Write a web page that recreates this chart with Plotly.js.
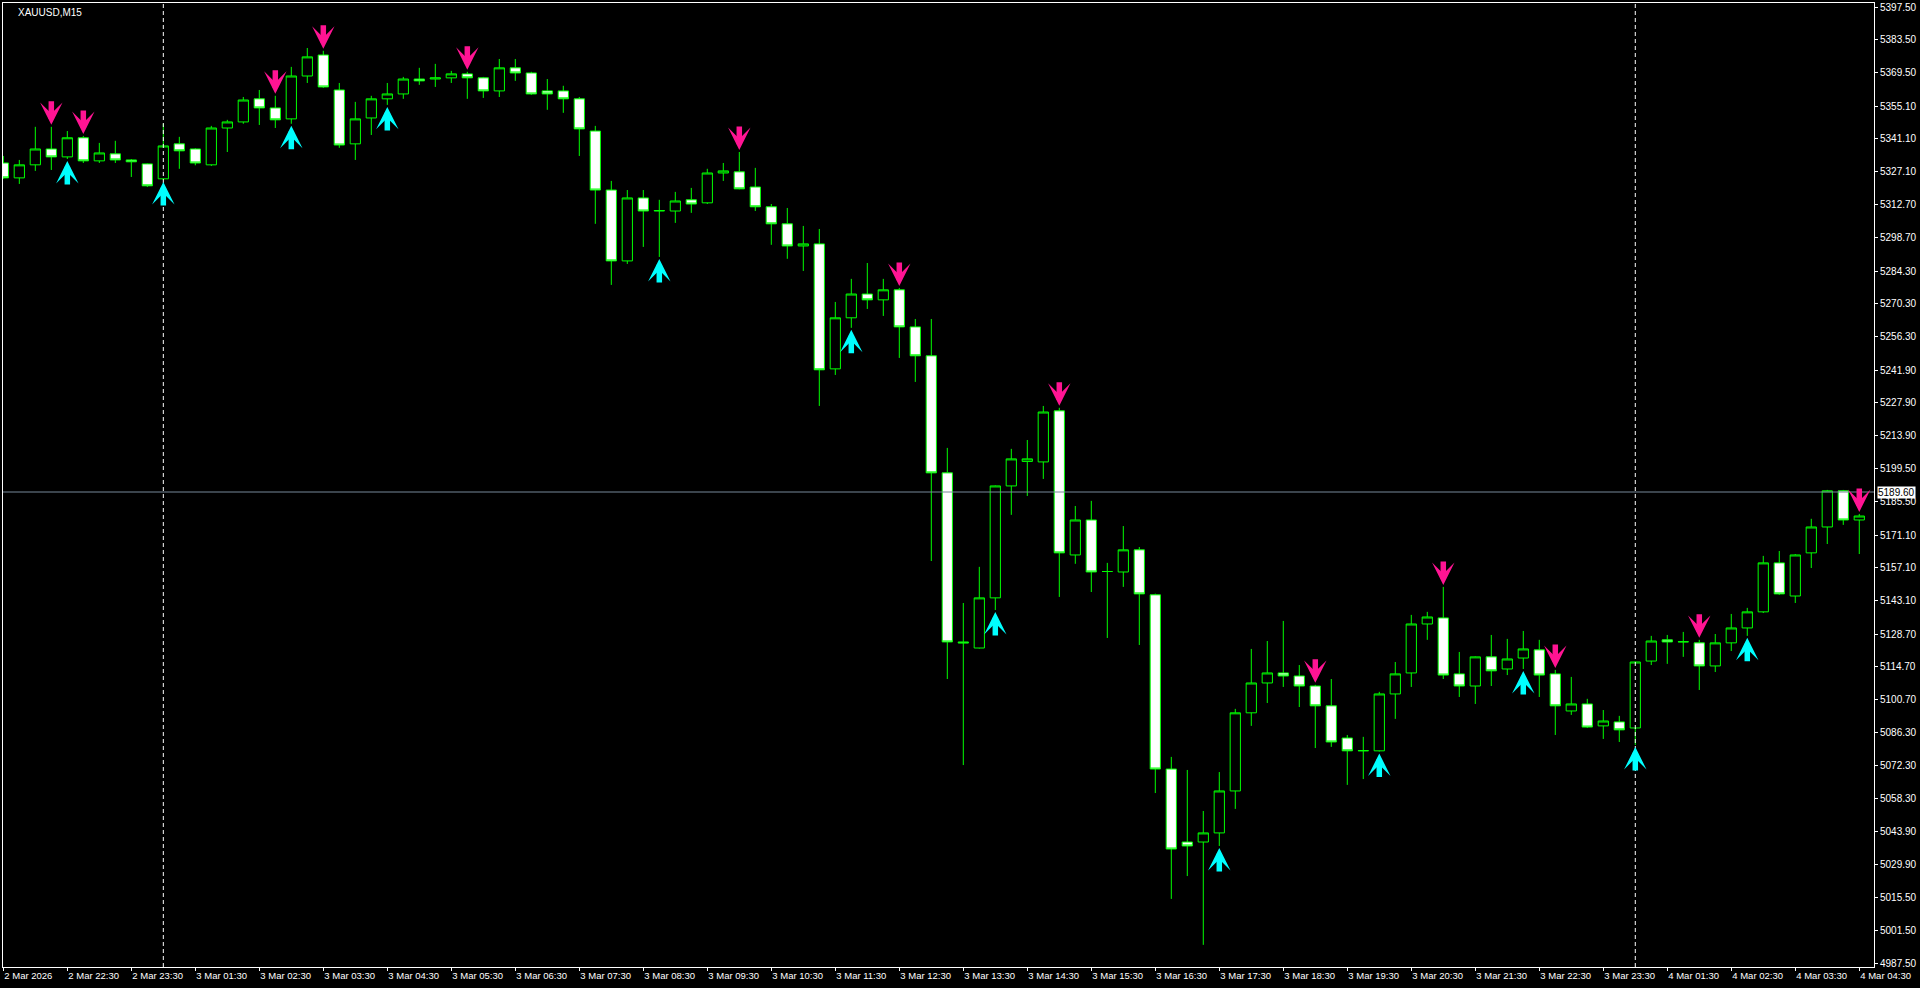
<!DOCTYPE html>
<html>
<head>
<meta charset="utf-8">
<script src="https://cdn.plot.ly/plotly-3.0.1.min.js"></script>
<style>
html,body{margin:0;padding:0;background:#000;overflow:hidden;}
#chart{width:1920px;height:988px;}
</style>
</head>
<body>
<div id="chart"></div>
<script>
// ---- Data (XAUUSD, M15) ----
const symbolTitle = 'XAUUSD,M15';

const open = [
5330.7, 5324.3, 5329.9, 5336.7, 5333.3, 5341.5, 5331.6, 5334.6, 5332.0, 5330.3,
5323.9, 5338.9, 5336.7, 5329.9, 5345.7, 5348.3, 5358.2, 5354.3, 5349.6, 5368.0,
5377.0, 5362.0, 5338.9, 5350.0, 5358.2, 5360.3, 5366.7, 5366.7, 5367.2, 5368.9,
5367.2, 5361.6, 5371.5, 5369.3, 5361.6, 5361.6, 5358.2, 5344.4, 5319.1, 5288.7,
5315.7, 5310.1, 5310.1, 5314.9, 5313.6, 5326.4, 5326.9, 5320.4, 5311.9, 5304.6,
5295.1, 5296.0, 5242.4, 5264.3, 5274.5, 5272.0, 5276.3, 5260.4, 5248.0, 5197.8,
5125.3, 5122.7, 5144.2, 5192.2, 5202.7, 5202.5, 5224.4, 5162.6, 5177.6, 5155.5,
5155.3, 5164.8, 5145.5, 5070.8, 5039.5, 5039.5, 5043.4, 5061.4, 5094.9, 5107.7,
5112.0, 5110.7, 5106.4, 5097.9, 5084.1, 5078.6, 5078.6, 5103.0, 5112.0, 5133.0,
5135.6, 5111.6, 5106.4, 5118.9, 5113.7, 5118.4, 5121.9, 5111.6, 5095.7, 5098.7,
5089.3, 5091.0, 5088.4, 5117.1, 5126.2, 5125.3, 5124.9, 5115.0, 5124.9, 5131.3,
5138.2, 5159.2, 5145.0, 5163.5, 5174.6, 5190.1, 5177.6
];
const high = [
5333.7, 5332.0, 5346.2, 5346.2, 5344.4, 5342.3, 5339.3, 5340.2, 5332.4, 5330.5,
5347.5, 5341.9, 5337.0, 5346.6, 5349.2, 5359.0, 5362.0, 5359.5, 5371.9, 5380.0,
5378.8, 5365.0, 5356.9, 5359.5, 5365.0, 5367.6, 5371.5, 5373.2, 5370.2, 5369.8,
5367.6, 5375.3, 5375.3, 5369.8, 5366.7, 5363.8, 5359.0, 5346.6, 5323.0, 5319.1,
5319.1, 5314.9, 5318.3, 5320.0, 5328.2, 5330.7, 5335.4, 5328.6, 5313.1, 5311.4,
5303.7, 5302.4, 5271.1, 5281.0, 5287.8, 5281.0, 5277.1, 5263.8, 5263.8, 5208.5,
5142.0, 5157.5, 5192.4, 5208.1, 5211.9, 5226.5, 5225.7, 5183.6, 5185.8, 5159.2,
5175.0, 5166.0, 5146.0, 5076.0, 5070.4, 5052.8, 5069.5, 5096.6, 5122.3, 5125.7,
5134.3, 5115.4, 5106.9, 5109.4, 5085.4, 5084.6, 5103.9, 5116.7, 5136.9, 5138.2,
5148.9, 5121.0, 5119.1, 5128.3, 5126.6, 5130.0, 5126.2, 5113.3, 5110.3, 5100.9,
5096.1, 5093.6, 5116.9, 5127.9, 5128.3, 5129.6, 5126.2, 5128.7, 5137.3, 5139.9,
5162.2, 5164.3, 5163.0, 5178.1, 5190.5, 5190.5, 5180.2
];
const low = [
5323.9, 5321.7, 5327.3, 5327.7, 5332.4, 5330.7, 5330.7, 5330.7, 5324.7, 5320.4,
5323.4, 5328.2, 5329.7, 5329.4, 5335.4, 5347.5, 5347.0, 5345.7, 5347.5, 5365.0,
5362.9, 5337.2, 5332.0, 5342.7, 5355.6, 5358.2, 5364.2, 5363.3, 5365.0, 5358.2,
5358.6, 5359.0, 5365.9, 5359.9, 5353.5, 5352.2, 5333.7, 5304.6, 5278.4, 5287.4,
5294.7, 5290.4, 5305.0, 5309.3, 5313.1, 5323.0, 5319.4, 5310.1, 5295.6, 5289.6,
5284.4, 5226.5, 5239.8, 5260.0, 5268.1, 5265.1, 5247.1, 5236.8, 5160.0, 5109.4,
5072.5, 5122.5, 5139.0, 5179.8, 5187.9, 5195.2, 5144.6, 5158.8, 5146.7, 5127.0,
5148.9, 5124.0, 5060.5, 5015.1, 5024.9, 4995.4, 5037.8, 5053.7, 5089.3, 5099.1,
5106.0, 5097.4, 5079.8, 5080.3, 5064.0, 5066.5, 5078.3, 5092.3, 5106.0, 5126.2,
5109.4, 5101.7, 5098.7, 5106.4, 5111.1, 5113.7, 5101.7, 5085.4, 5094.0, 5088.4,
5083.7, 5082.4, 5081.1, 5115.4, 5115.9, 5118.9, 5104.7, 5112.4, 5121.4, 5127.9,
5137.7, 5145.5, 5142.0, 5157.0, 5167.3, 5175.5, 5163.0
];
const close = [
5324.3, 5329.9, 5336.7, 5333.3, 5341.5, 5331.6, 5335.0, 5332.0, 5331.2, 5320.9,
5338.0, 5335.9, 5330.7, 5345.7, 5348.3, 5357.7, 5354.3, 5349.2, 5368.0, 5376.2,
5363.3, 5338.4, 5349.6, 5358.2, 5360.3, 5366.7, 5365.9, 5367.2, 5368.9, 5367.2,
5361.6, 5371.5, 5369.3, 5360.3, 5360.3, 5358.2, 5345.3, 5319.1, 5288.7, 5315.7,
5310.1, 5310.3, 5314.4, 5313.1, 5326.4, 5327.3, 5319.6, 5311.9, 5304.6, 5295.1,
5296.0, 5242.0, 5264.3, 5274.5, 5272.0, 5276.3, 5260.4, 5248.0, 5197.8, 5125.3,
5124.9, 5144.2, 5192.2, 5203.8, 5203.8, 5223.9, 5163.5, 5177.6, 5155.3, 5155.5,
5164.8, 5145.9, 5070.8, 5036.5, 5037.8, 5043.4, 5061.4, 5094.9, 5107.7, 5112.0,
5110.7, 5106.4, 5097.9, 5082.4, 5078.6, 5078.7, 5103.0, 5111.6, 5133.0, 5136.0,
5111.1, 5106.4, 5118.9, 5112.9, 5118.0, 5122.3, 5111.1, 5097.9, 5098.7, 5088.8,
5091.4, 5087.6, 5116.7, 5125.7, 5125.3, 5125.4, 5115.0, 5124.9, 5131.3, 5138.2,
5159.2, 5145.9, 5162.6, 5174.6, 5190.1, 5177.6, 5179.3
];

// signal arrows (bar indices)
const sellSignals = [3, 5, 17, 20, 29, 46, 56, 66, 82, 90, 97, 106, 116];
const buySignals  = [4, 10, 18, 24, 41, 53, 62, 76, 86, 95, 102, 109];

// day separators (first bar of a new day)
const daySeparators = [10, 102];

// horizontal line level
const hLineLevel = 5189.60;

// time axis labels (every 4 bars)
const timeLabels = [
'2 Mar 2026','2 Mar 22:30','2 Mar 23:30','3 Mar 01:30','3 Mar 02:30','3 Mar 03:30',
'3 Mar 04:30','3 Mar 05:30','3 Mar 06:30','3 Mar 07:30','3 Mar 08:30','3 Mar 09:30',
'3 Mar 10:30','3 Mar 11:30','3 Mar 12:30','3 Mar 13:30','3 Mar 14:30','3 Mar 15:30',
'3 Mar 16:30','3 Mar 17:30','3 Mar 18:30','3 Mar 19:30','3 Mar 20:30','3 Mar 21:30',
'3 Mar 22:30','3 Mar 23:30','4 Mar 01:30','4 Mar 02:30','4 Mar 03:30','4 Mar 04:30'
];
const timeLabelBars = timeLabels.map((_, i) => i * 4);

// price axis labels
const priceTicks = [
5397.50, 5383.50, 5369.50, 5355.10, 5341.10, 5327.10, 5312.70, 5298.70, 5284.30, 5270.30,
5256.30, 5241.90, 5227.90, 5213.90, 5199.50, 5185.50, 5171.10, 5157.10, 5143.10, 5128.70,
5114.70, 5100.70, 5086.30, 5072.30, 5058.30, 5043.90, 5029.90, 5015.50, 5001.50, 4987.50
];

// ---- Build chart ----
const bars = open.map((_, i) => i);
const FONT = '"Liberation Sans", Arial, sans-serif';

const candle = {
  type: 'candlestick',
  x: bars, open: open, high: high, low: low, close: close,
  increasing: { line: { color: '#00FF00', width: 1 }, fillcolor: '#000000' },
  decreasing: { line: { color: '#00FF00', width: 1 }, fillcolor: '#FFFFFF' },
  whiskerwidth: 0,
  hoverinfo: 'skip',
  showlegend: false
};

const ARROW_W = 5.5, ARROW_S = 0.68, ARROW_LEN = 27, ARROW_GAP = 2;
const annotations = [];
sellSignals.forEach(i => annotations.push({
  x: i, y: high[i], xref: 'x', yref: 'y', text: '', showarrow: true,
  arrowhead: 3, arrowsize: ARROW_S, arrowwidth: ARROW_W, arrowcolor: '#FF1493',
  ax: 0, ay: -ARROW_LEN, standoff: ARROW_GAP
}));
buySignals.forEach(i => annotations.push({
  x: i, y: low[i], xref: 'x', yref: 'y', text: '', showarrow: true,
  arrowhead: 3, arrowsize: ARROW_S, arrowwidth: ARROW_W, arrowcolor: '#00FFFF',
  ax: 0, ay: ARROW_LEN, standoff: ARROW_GAP
}));
annotations.push({
  xref: 'paper', yref: 'paper', x: 0, y: 1, xanchor: 'left', yanchor: 'top',
  xshift: 13, yshift: -2, text: symbolTitle, showarrow: false,
  font: { family: FONT, size: 10, color: '#FFFFFF' }
});
annotations.push({
  xref: 'paper', yref: 'y', x: 1, y: hLineLevel, xanchor: 'left', yanchor: 'middle',
  xshift: 3, text: hLineLevel.toFixed(2), showarrow: false,
  bgcolor: '#FFFFFF', borderpad: 0,
  font: { family: FONT, size: 10, color: '#000000' }
});

const shapes = daySeparators.map(i => ({
  type: 'line', xref: 'x', yref: 'paper', x0: i, x1: i, y0: 0, y1: 1,
  line: { color: '#FFFFFF', width: 1, dash: '4px,3px' }
}));
shapes.push({
  type: 'line', xref: 'paper', yref: 'y', x0: 0, x1: 1, y0: hLineLevel, y1: hLineLevel,
  line: { color: '#778899', width: 1 }
});

const layout = {
  width: 1920, height: 988,
  paper_bgcolor: '#000000', plot_bgcolor: '#000000',
  margin: { l: 3, r: 46, t: 3, b: 21, pad: 0 },
  boxgap: 0.36, boxgroupgap: 0,
  showlegend: false,
  xaxis: {
    range: [-0.02, 116.92], fixedrange: true,
    rangeslider: { visible: false },
    tickmode: 'array', tickvals: timeLabelBars, ticktext: timeLabels,
    ticks: 'outside', ticklen: 3, tickcolor: '#FFFFFF', tickwidth: 1,
    ticklabelposition: 'outside right',
    tickfont: { family: FONT, size: 9.5, color: '#FFFFFF' },
    showgrid: false, zeroline: false,
    showline: true, linecolor: '#FFFFFF', linewidth: 1, mirror: true
  },
  yaxis: {
    side: 'right', range: [4985.9, 5399.3], fixedrange: true,
    tickmode: 'array', tickvals: priceTicks, ticktext: priceTicks.map(v => v.toFixed(2)),
    ticks: 'outside', ticklen: 3, tickcolor: '#FFFFFF', tickwidth: 1,
    tickfont: { family: FONT, size: 10, color: '#FFFFFF' },
    showgrid: false, zeroline: false,
    showline: true, linecolor: '#FFFFFF', linewidth: 1, mirror: true
  },
  shapes: shapes,
  annotations: annotations
};

Plotly.newPlot('chart', [candle], layout, { displayModeBar: false, staticPlot: true });
</script>
</body>
</html>
